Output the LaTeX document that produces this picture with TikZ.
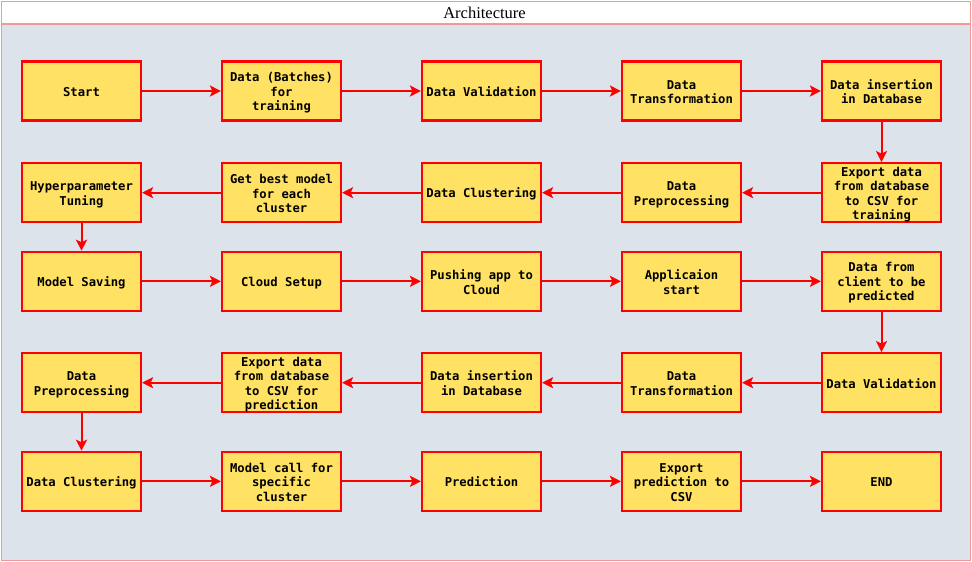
\documentclass[tikz,border=0pt]{standalone}
\usepackage{fontspec}
\usetikzlibrary{arrows.meta}
\newfontfamily\boxfont{DejaVu Sans Mono}
\newfontfamily\titlefont{Liberation Serif}
\definecolor{bggrey}{HTML}{DCE3EA}
\definecolor{boxfill}{HTML}{FFE264}
\definecolor{framepink}{HTML}{F29A9A}
\definecolor{arrred}{HTML}{FF0000}
\newcommand\fs{\rule{0pt}{12.75pt}}
\newcommand\ls{\rule[-1.75pt]{0pt}{1.75pt}}
\tikzset{
  flowbox/.style={draw=arrred, line width=2.2pt, fill=boxfill, minimum width=119pt, minimum height=59pt,
    align=center, inner sep=0pt, font=\boxfont\bfseries\fontsize{12.2}{14.5}\selectfont, text=black},
  flowarrow/.style={draw=arrred, line width=2pt, -{Stealth[length=11pt,width=11pt,inset=2.5pt]}},
}
\begin{document}
\begin{tikzpicture}[x=1pt,y=-1pt]
\useasboundingbox (0,0) rectangle (972,562);
\fill[white] (0,0) rectangle (972,562);
\fill[bggrey] (1.5,24) rectangle (970.5,560.5);
\draw[framepink, line width=1.5pt] (1.5,1.5) rectangle (970.5,560.5);
\draw[framepink, line width=1.5pt] (1.5,24) -- (970.5,24);
\node[font=\titlefont\fontsize{16.5}{18}\selectfont] (title) at (484.5,13) {Architecture};
% row 1
\node[flowbox] (a1) at (81.5,91) {\fs Start\ls};
\node[flowbox] (a2) at (281.5,91) {\fs Data (Batches)\\for\\training\ls};
\node[flowbox] (a3) at (481.5,91) {\fs Data Validation\ls};
\node[flowbox] (a4) at (681.5,91) {\fs Data\\Transformation\ls};
\node[flowbox] (a5) at (881.5,91) {\fs Data insertion\\in Database\ls};
% row 2
\node[flowbox] (b5) at (881.5,192.7) {\fs Export data\\from database\\to CSV for\\training\ls};
\node[flowbox] (b4) at (681.5,192.7) {\fs Data\\Preprocessing\ls};
\node[flowbox] (b3) at (481.5,192.7) {\fs Data Clustering\ls};
\node[flowbox] (b2) at (281.5,192.7) {\fs Get best model\\for each\\cluster\ls};
\node[flowbox] (b1) at (81.5,192.7) {\fs Hyperparameter\\Tuning\ls};
% row 3
\node[flowbox] (c1) at (81.5,281.3) {\fs Model Saving\ls};
\node[flowbox] (c2) at (281.5,281.3) {\fs Cloud Setup\ls};
\node[flowbox] (c3) at (481.5,281.3) {\fs Pushing app to\\Cloud\ls};
\node[flowbox] (c4) at (681.5,281.3) {\fs Applicaion\\start\ls};
\node[flowbox] (c5) at (881.5,281.3) {\fs Data from\\client to be\\predicted\ls};
% row 4
\node[flowbox] (d5) at (881.5,382.7) {\fs Data Validation\ls};
\node[flowbox] (d4) at (681.5,382.7) {\fs Data\\Transformation\ls};
\node[flowbox] (d3) at (481.5,382.7) {\fs Data insertion\\in Database\ls};
\node[flowbox] (d2) at (281.5,382.7) {\fs Export data\\from database\\to CSV for\\prediction\ls};
\node[flowbox] (d1) at (81.5,382.7) {\fs Data\\Preprocessing\ls};
% row 5
\node[flowbox] (e1) at (81.5,481.3) {\fs Data Clustering\ls};
\node[flowbox] (e2) at (281.5,481.3) {\fs Model call for\\specific\\cluster\ls};
\node[flowbox] (e3) at (481.5,481.3) {\fs Prediction\ls};
\node[flowbox] (e4) at (681.5,481.3) {\fs Export\\prediction to\\CSV\ls};
\node[flowbox] (e5) at (881.5,481.3) {\fs END\ls};
% arrows
\draw[flowarrow] (a1) -- (a2);
\draw[flowarrow] (a2) -- (a3);
\draw[flowarrow] (a3) -- (a4);
\draw[flowarrow] (a4) -- (a5);
\draw[flowarrow] (a5) -- (b5);
\draw[flowarrow] (b5) -- (b4);
\draw[flowarrow] (b4) -- (b3);
\draw[flowarrow] (b3) -- (b2);
\draw[flowarrow] (b2) -- (b1);
\draw[flowarrow] (b1) -- (c1);
\draw[flowarrow] (c1) -- (c2);
\draw[flowarrow] (c2) -- (c3);
\draw[flowarrow] (c3) -- (c4);
\draw[flowarrow] (c4) -- (c5);
\draw[flowarrow] (c5) -- (d5);
\draw[flowarrow] (d5) -- (d4);
\draw[flowarrow] (d4) -- (d3);
\draw[flowarrow] (d3) -- (d2);
\draw[flowarrow] (d2) -- (d1);
\draw[flowarrow] (d1) -- (e1);
\draw[flowarrow] (e1) -- (e2);
\draw[flowarrow] (e2) -- (e3);
\draw[flowarrow] (e3) -- (e4);
\draw[flowarrow] (e4) -- (e5);
\end{tikzpicture}
\end{document}
